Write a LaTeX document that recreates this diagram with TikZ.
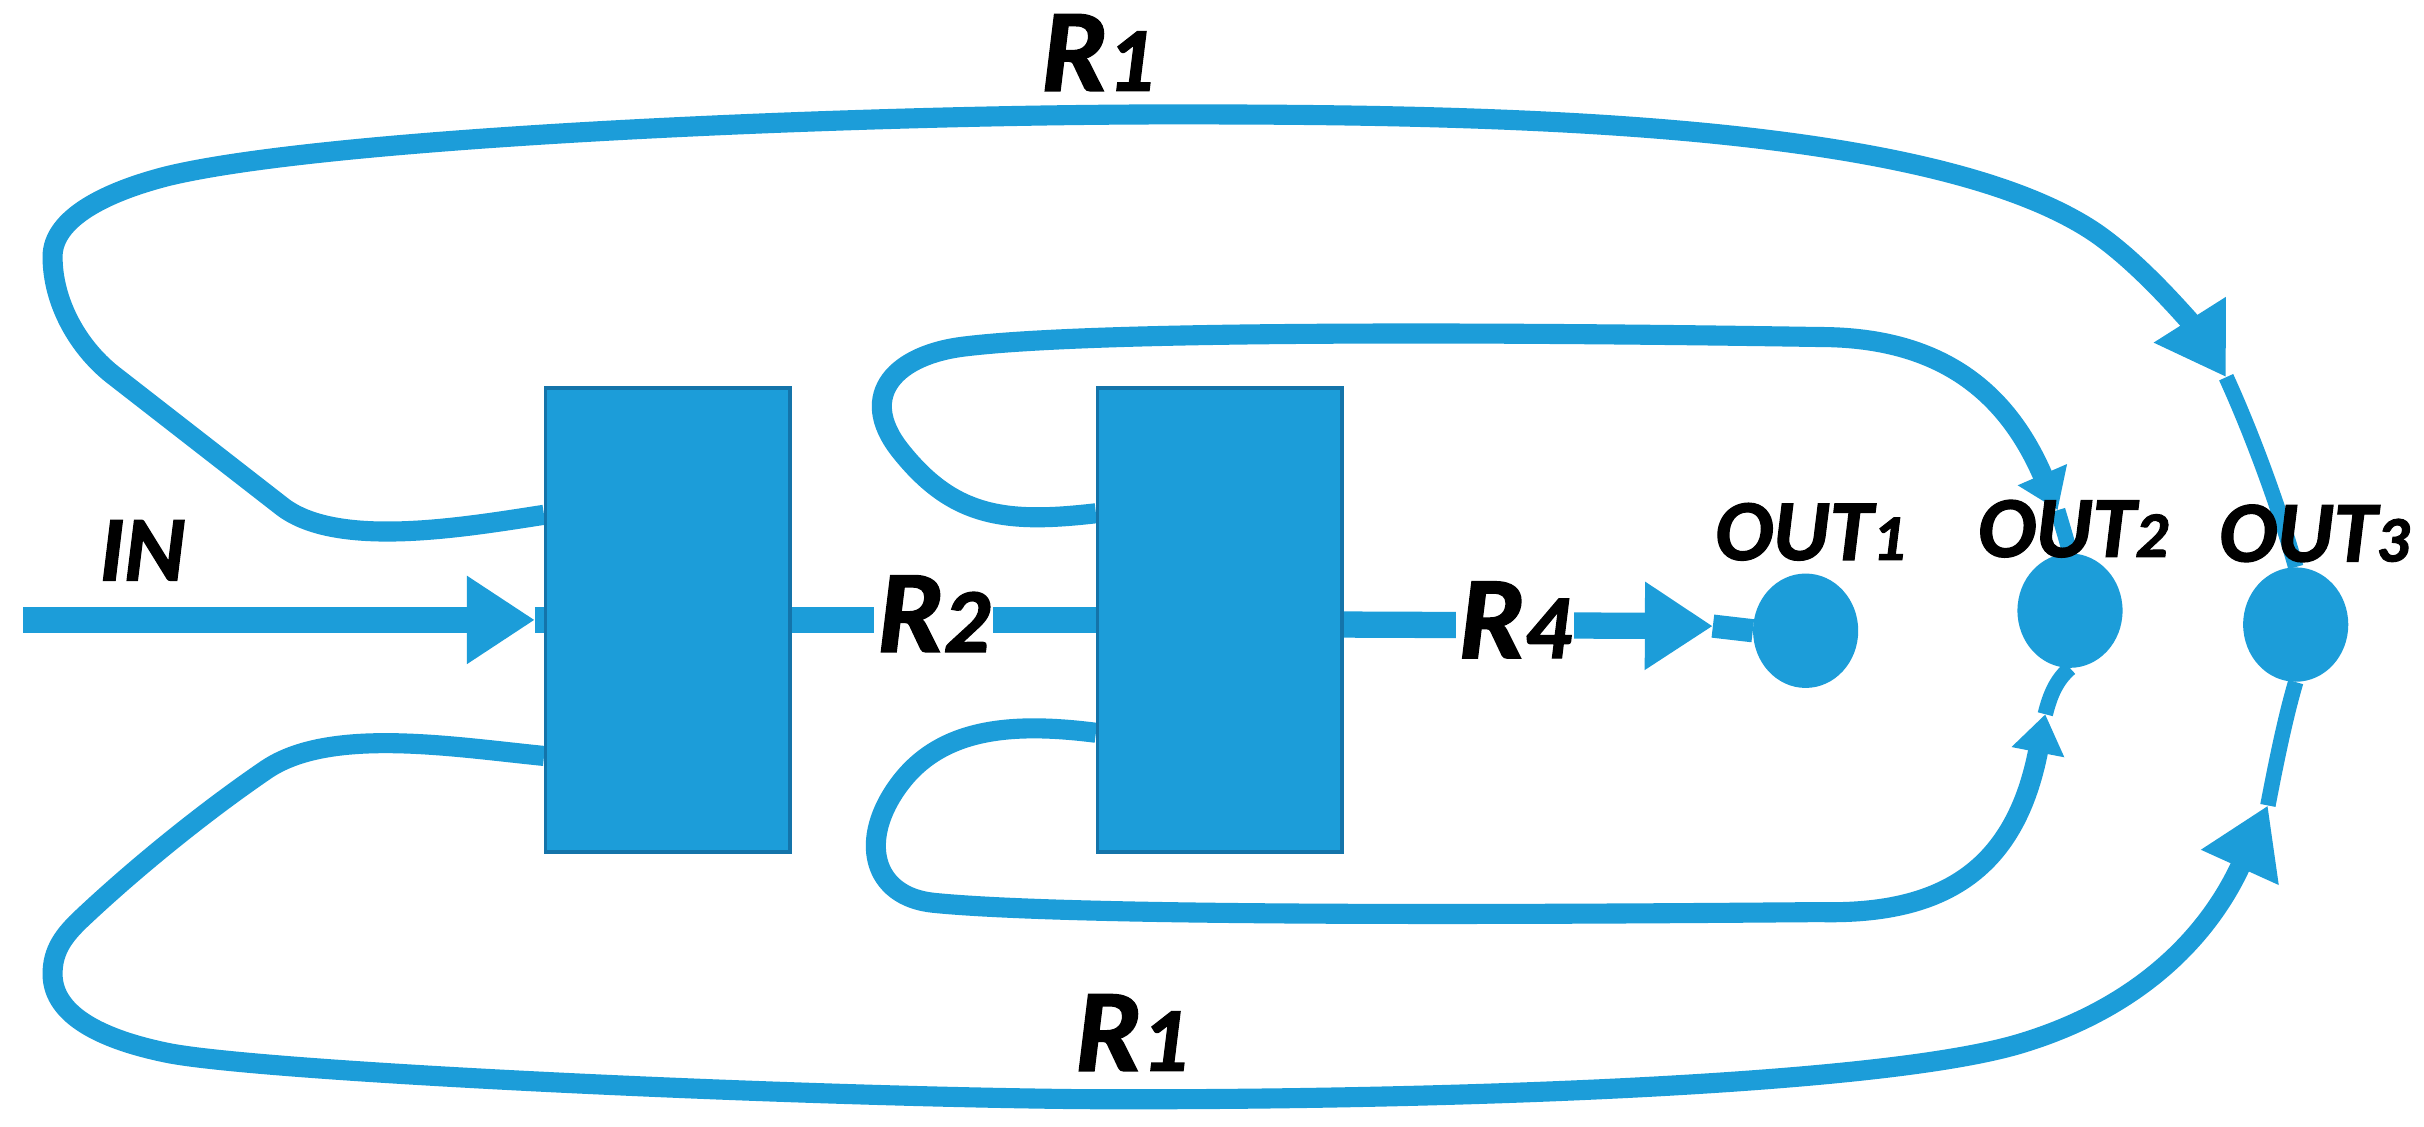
\documentclass[tikz,border=0pt]{standalone}
\usepackage{fontspec}
\setmainfont{Carlito}[Numbers=Lining, BoldItalicFeatures={FakeBold=1.5}]
\usetikzlibrary{arrows.meta,shapes.geometric,backgrounds}
\definecolor{lblue}{RGB}{28,157,217}
\definecolor{boxedge}{RGB}{20,116,170}
\newcommand{\rlab}[1]{\fontsize{76pt}{76pt}\selectfont R\fontsize{59pt}{59pt}\selectfont #1}
\newcommand{\outlab}[1]{\fontsize{56pt}{56pt}\selectfont OUT\fontsize{42pt}{42pt}\selectfont #1}
\tikzset{
  conn/.style={draw=lblue, line width=13pt},
  thinconn/.style={draw=lblue, line width=10pt},
  thickconn/.style={draw=lblue, line width=17pt},
  blk/.style={rectangle, fill=lblue, draw=boxedge, line width=2.2pt, minimum width=158pt, minimum height=300pt, inner sep=0pt},
  port/.style={ellipse, fill=lblue, minimum width=68pt, minimum height=74pt, inner sep=0pt},
  lab/.style={font=\bfseries\itshape, inner sep=0pt, text=black},
  labbg/.style={lab, fill=white, inner sep=2pt},
  bigtip/.style={-{Triangle[length=44pt,width=54pt]}},
  midtip/.style={-{Triangle[length=44pt,width=52pt]}},
  smalltip/.style={-{Triangle[length=25pt,width=33pt]}}
}
\begin{document}
\begin{tikzpicture}[x=1pt,y=-1pt]
\useasboundingbox (0,0) rectangle (1568,728.4);
% blocks and outputs
\node[blk] (box1) at (432,401) {};
\node[blk] (box2) at (789,401) {};
\node[port] (out1) at (1168,408) {};
\node[port] (out2) at (1339,395) {};
\node[port] (out3) at (1485,404) {};
% labels
\node[lab] (lin) at (92,356) {\fontsize{60pt}{60pt}\selectfont IN};
\node[lab] (lr1a) at (710,34) {\rlab{1}};
\node[lab] (lr1b) at (732,668) {\rlab{1}};
\node[labbg] (lr2) at (604,397) {\rlab{2}};
\node[labbg] (lr4) at (980,401) {\rlab{4}};
\node[lab] (lo1) at (1171,344) {\outlab{1}};
\node[lab] (lo2) at (1341,342) {\outlab{2}};
\node[lab] (lo3) at (1497,345) {\outlab{3}};
% coordinates
\coordinate (inS) at (15,401);
\coordinate (inTip) at (346,401);
\coordinate (r4tip) at (1108,405);
\coordinate (t1) at (1440,244);
\coordinate (t2) at (1467,521);
\coordinate (t3) at (1331,330);
\coordinate (t4) at (1323,462);
\coordinate (b1u) at ([yshift=68pt]box1.west);
\coordinate (b1d) at ([yshift=-88pt]box1.west);
\coordinate (b2u) at ([yshift=69pt]box2.west);
\coordinate (b2d) at ([yshift=-73pt]box2.west);
\coordinate (b2r) at ([yshift=-3pt]box2.east);
\begin{scope}[on background layer]
\fill[white] (0,0) rectangle (1568,728.4);
% IN
\draw[thickconn, bigtip] (inS) -- (inTip);
\draw[thickconn] (inTip) -- (box1.west);
% R2
\draw[thickconn] (box1.east) -- (box2.west);
% R4
\draw[thickconn, bigtip] (b2r) -- (r4tip);
\draw[draw=lblue, line width=15pt] (r4tip) -- (out1.west);
% top R1
\draw[conn, midtip] (b1u)
  .. controls (300,341) and (219,355) .. (183,328)
  .. controls (147,300) and (111,272) .. (75,244)
  .. controls (51,226) and (34,196) .. (34,166)
  .. controls (34,141) and (69,124) .. (108,114)
  .. controls (215,88) and (560,74) .. (760,74)
  .. controls (960,74) and (1239,78) .. (1350,147)
  .. controls (1384,168) and (1421,214) .. (t1);
\draw[thinconn] (t1) .. controls (1452,270) and (1472,320) .. (out3.north);
% bottom R1
\draw[conn, midtip] (b1d)
  .. controls (292,483) and (213,470) .. (172,498)
  .. controls (131,526) and (87,562) .. (54,593)
  .. controls (41,605) and (34,615) .. (34,630)
  .. controls (34,658) and (69,673) .. (108,681)
  .. controls (167,693) and (500,709) .. (700,711)
  .. controls (900,712) and (1211,704) .. (1307,675)
  .. controls (1403,646) and (1438,585) .. (t2);
\draw[thinconn] (t2) .. controls (1472,495) and (1478,465) .. (out3.south);
% inner top loop
\draw[conn, smalltip] (b2u)
  .. controls (649,339) and (616,334) .. (582,291)
  .. controls (554,255) and (580,229) .. (625,224)
  .. controls (725,212) and (1050,216) .. (1177,218)
  .. controls (1260,218) and (1300,258) .. (t3);
\draw[thinconn] (t3) .. controls (1334,340) and (1337,350) .. (out2.north);
% inner bottom loop
\draw[conn, smalltip] (b2d)
  .. controls (654,467) and (609,471) .. (582,507)
  .. controls (555,543) and (564,580) .. (604,584)
  .. controls (704,594) and (1050,591) .. (1177,590)
  .. controls (1260,592) and (1304,560) .. (t4);
\draw[thinconn] (t4) .. controls (1326,450) and (1330,440) .. (out2.south);
\end{scope}
\end{tikzpicture}
\end{document}
